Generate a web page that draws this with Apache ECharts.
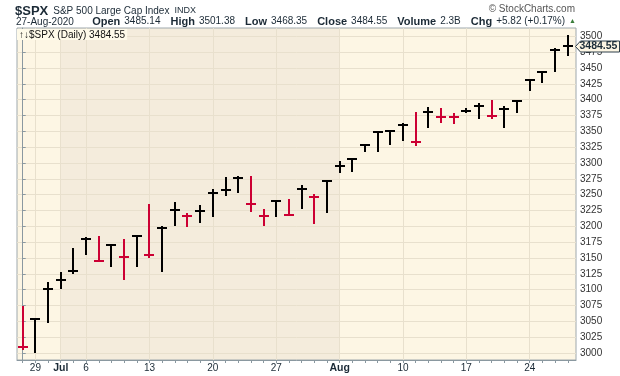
<!DOCTYPE html>
<html><head><meta charset="utf-8">
<style>html,body{margin:0;padding:0;background:#fff}#c{width:620px;height:376px}</style>
<script src="https://cdn.jsdelivr.net/npm/echarts@6/dist/echarts.min.js"></script>
</head><body><div id="c"></div>
<script>
// ---- data ----
const dates = ['2020-06-26','2020-06-29','2020-06-30','2020-07-01','2020-07-02','2020-07-06','2020-07-07','2020-07-08','2020-07-09','2020-07-10',
  '2020-07-13','2020-07-14','2020-07-15','2020-07-16','2020-07-17','2020-07-20','2020-07-21','2020-07-22','2020-07-23','2020-07-24',
  '2020-07-27','2020-07-28','2020-07-29','2020-07-30','2020-07-31','2020-08-03','2020-08-04','2020-08-05','2020-08-06','2020-08-07',
  '2020-08-10','2020-08-11','2020-08-12','2020-08-13','2020-08-14','2020-08-17','2020-08-18','2020-08-19','2020-08-20','2020-08-21',
  '2020-08-24','2020-08-25','2020-08-26','2020-08-27'];
const highs = [3073.73,3053.89,3111.51,3128.44,3165.81,3182.59,3184.15,3171.80,3179.78,3186.82,
  3235.32,3200.95,3238.28,3220.39,3233.13,3258.61,3277.29,3279.32,3279.99,3227.26,
  3241.43,3243.72,3264.74,3250.92,3272.17,3302.73,3306.84,3330.77,3351.03,3352.54,
  3363.29,3381.01,3387.89,3387.24,3378.51,3387.59,3395.06,3399.54,3390.80,3399.96,
  3432.09,3444.21,3481.07,3501.38];
const lows = [3004.63,2999.74,3047.83,3101.17,3124.52,3155.29,3142.93,3136.53,3115.70,3136.22,
  3149.43,3127.66,3200.76,3198.59,3205.65,3215.16,3247.77,3253.10,3222.66,3200.05,
  3214.25,3216.17,3227.22,3204.13,3220.26,3284.53,3286.37,3317.37,3318.14,3328.72,
  3335.44,3326.44,3355.50,3363.35,3361.64,3379.22,3370.15,3369.66,3354.69,3379.31,
  3413.13,3425.84,3444.15,3468.35];
const closes = [3009.05,3053.24,3100.29,3115.86,3130.01,3179.72,3145.32,3169.94,3152.05,3185.04,
  3155.22,3197.52,3226.56,3215.57,3224.73,3251.84,3257.30,3276.02,3235.66,3215.63,
  3239.41,3218.44,3258.44,3246.22,3271.12,3294.61,3306.51,3327.77,3349.16,3351.28,
  3360.47,3333.69,3380.35,3373.43,3372.85,3381.99,3389.78,3374.85,3385.51,3397.16,
  3431.28,3443.62,3478.73,3484.55];
const prevClose = 3083.76;
const yTicks = [3000,3025,3050,3075,3100,3125,3150,3175,3200,3225,3250,3275,3300,3325,3350,3375,3400,3425,3450,3475,3500];
const xTickDates = ['2020-06-29','2020-07-01','2020-07-06','2020-07-13','2020-07-20','2020-07-27','2020-08-03','2020-08-10','2020-08-17','2020-08-24'];
const xTickLabels = ['29','Jul','6','13','20','27','Aug','10','17','24'];
const monthStartDates = ['2020-07-01','2020-08-03'];
const statLabels = ['Open','High','Low','Close','Volume','Chg'];
const statValues = ['3485.14','3501.38','3468.35','3484.55','2.3B','+5.82 (+0.17%)'];

// ---- layout / style ----
const FONT = '"Liberation Sans", Arial, sans-serif';
const LIGHT_BG = '#fdf6e4', DARK_BG = '#f4ecdc', GRID = '#e8e0cd', AXIS = '#8a98a0';
const RED = '#cc0033', BLACK = '#000000', TXT = '#1b2a36';
const X_MIN = -0.45, X_MAX = dates.length - 0.35;
const Y_MIN = 2988.9, Y_MAX = 3513.2;

const barData = dates.map((d, i) => {
  const prev = i === 0 ? prevClose : closes[i - 1];
  return [i, highs[i], lows[i], closes[i], closes[i] < prev ? -1 : 1];
});
const xTickIdx = xTickDates.map(d => dates.indexOf(d));
const labelByIdx = {};
xTickIdx.forEach((ix, k) => { labelByIdx[ix] = xTickLabels[k]; });
const allIdx = dates.map((d, i) => i);
const mIdx = monthStartDates.map(d => dates.indexOf(d));
const bandData = [[X_MIN, mIdx[0], 0], [mIdx[0], mIdx[1], 1], [mIdx[1], X_MAX, 0]];

const chart = echarts.init(document.getElementById('c'));
const statText = statLabels.map((l, i) => '{k|' + l + '}{s|}{v|' + statValues[i] + '}').join('{g|}') + '{s|}{t|▲}';

chart.setOption({
  animation: false,
  textStyle: { fontFamily: FONT },
  title: [
    { text: '{a|$SPX} {b|S&P 500 Large Cap Index} {c|INDX}', left: 15, top: 2, padding: 0,
      textStyle: { fontWeight: 'normal', rich: {
        a: { fontSize: 13, fontWeight: 'bold', color: TXT, fontFamily: FONT },
        b: { fontSize: 10, fontWeight: 'normal', color: TXT, fontFamily: FONT },
        c: { fontSize: 9, fontWeight: 'normal', color: TXT, fontFamily: FONT } } } },
    { text: '© StockCharts.com', right: 45, top: 4, padding: 0,
      textStyle: { fontSize: 10, fontWeight: 'normal', color: '#555', fontFamily: FONT } },
    { text: '27-Aug-2020', left: 16, top: 17, padding: 0,
      textStyle: { fontSize: 10, fontWeight: 'normal', color: TXT, fontFamily: FONT } },
    { text: statText, right: 44, top: 16, padding: 0,
      textStyle: { fontWeight: 'normal', rich: {
        k: { fontSize: 11, fontWeight: 'bold', color: TXT, fontFamily: FONT },
        v: { fontSize: 10, fontWeight: 'normal', color: TXT, fontFamily: FONT },
        s: { width: 4, fontSize: 10 },
        g: { width: 10, fontSize: 10 },
        t: { fontSize: 7, fontWeight: 'normal', color: '#3a7d3a', fontFamily: FONT } } } }
  ],
  grid: { left: 17, right: 44, top: 28, bottom: 16, show: true, borderColor: '#9ea8ad', borderWidth: 1, backgroundColor: 'transparent' },
  xAxis: [
    { type: 'value', min: X_MIN, max: X_MAX, position: 'bottom',
      axisLine: { show: true, lineStyle: { color: AXIS, width: 1 } },
      axisTick: { show: true, length: 3, customValues: xTickIdx, lineStyle: { color: AXIS } },
      axisLabel: { customValues: xTickIdx, margin: 3, fontSize: 10, color: TXT,
        formatter: v => { const s = labelByIdx[Math.round(v)] || ''; return /^\d+$/.test(s) ? s : '{m|' + s + '}'; },
        rich: { m: { fontSize: 10.5, fontWeight: 'bold', color: TXT, fontFamily: FONT } } },
      splitLine: { show: true, lineStyle: { color: GRID, width: 1 } } },
    { type: 'value', min: X_MIN, max: X_MAX, position: 'bottom',
      axisLine: { show: false },
      axisTick: { show: true, length: 3, customValues: allIdx, lineStyle: { color: AXIS } },
      axisLabel: { show: false },
      splitLine: { show: false } }
  ],
  yAxis: { type: 'value', position: 'right', min: Y_MIN, max: Y_MAX,
    axisLine: { show: true, lineStyle: { color: AXIS, width: 1 } },
    axisTick: { show: true, length: 3, customValues: yTicks, lineStyle: { color: AXIS } },
    axisLabel: { customValues: yTicks, margin: 4, fontSize: 10, color: '#333', fontFamily: FONT,
      formatter: v => String(Math.round(v)) },
    splitLine: { show: true, lineStyle: { color: GRID, width: 1 } } },
  series: [
    { type: 'custom', name: 'bands', z: -1, silent: true, xAxisIndex: 0, yAxisIndex: 0,
      data: bandData, encode: { x: [0, 1] },
      renderItem: (params, api) => {
        const a = api.coord([api.value(0), Y_MAX]);
        const b = api.coord([api.value(1), Y_MIN]);
        return { type: 'rect', shape: { x: a[0], y: a[1], width: b[0] - a[0], height: b[1] - a[1] },
          style: { fill: api.value(2) ? DARK_BG : LIGHT_BG } };
      } },
    { type: 'custom', name: '$SPX', xAxisIndex: 0, yAxisIndex: 0,
      data: barData, encode: { x: 0, y: [1, 2, 3] },
      renderItem: (params, api) => {
        const x = api.value(0);
        const pH = api.coord([x, api.value(1)]);
        const pL = api.coord([x, api.value(2)]);
        const pC = api.coord([x, api.value(3)]);
        const color = api.value(4) < 0 ? RED : BLACK;
        const cx = Math.round(pH[0]);
        const top = Math.round(pH[1]), bot = Math.round(pL[1]);
        return { type: 'group', children: [
          { type: 'rect', shape: { x: cx - 1, y: top, width: 2, height: Math.max(2, bot - top) }, style: { fill: color } },
          { type: 'rect', shape: { x: cx - 5, y: Math.round(pC[1]) - 1, width: 10, height: 2 }, style: { fill: color } }
        ] };
      } }
  ]
});

// overlays: in-plot label and last price tag
const last = closes[closes.length - 1];
const tagPt = chart.convertToPixel({ xAxisIndex: 0, yAxisIndex: 0 }, [X_MAX, last]);
const tx = Math.round(tagPt[0]), ty = Math.round(tagPt[1]);
chart.setOption({
  graphic: [
    { type: 'text', left: 17, top: 29, z: 100,
      style: { text: '↑↓$SPX (Daily) ' + last.toFixed(2), fontSize: 10, fontFamily: FONT, fill: '#111',
        backgroundColor: '#fefae9', padding: [1, 2, 0, 2] } },
    { type: 'polygon', z: 100,
      shape: { points: [[tx - 0.5, ty + 0.5], [tx + 4.5, ty - 5], [619.5, ty - 5], [619.5, ty + 6], [tx + 4.5, ty + 6]] },
      style: { fill: LIGHT_BG, stroke: '#2c3e4a', lineWidth: 1 } },
    { type: 'text', x: tx + 3.5, y: ty + 0.5, z: 101,
      style: { text: last.toFixed(2), fontSize: 10.5, fontWeight: 'bold', fontFamily: FONT, fill: '#1b2c38',
        textVerticalAlign: 'middle', verticalAlign: 'middle' } }
  ]
});
</script>
</body></html>
